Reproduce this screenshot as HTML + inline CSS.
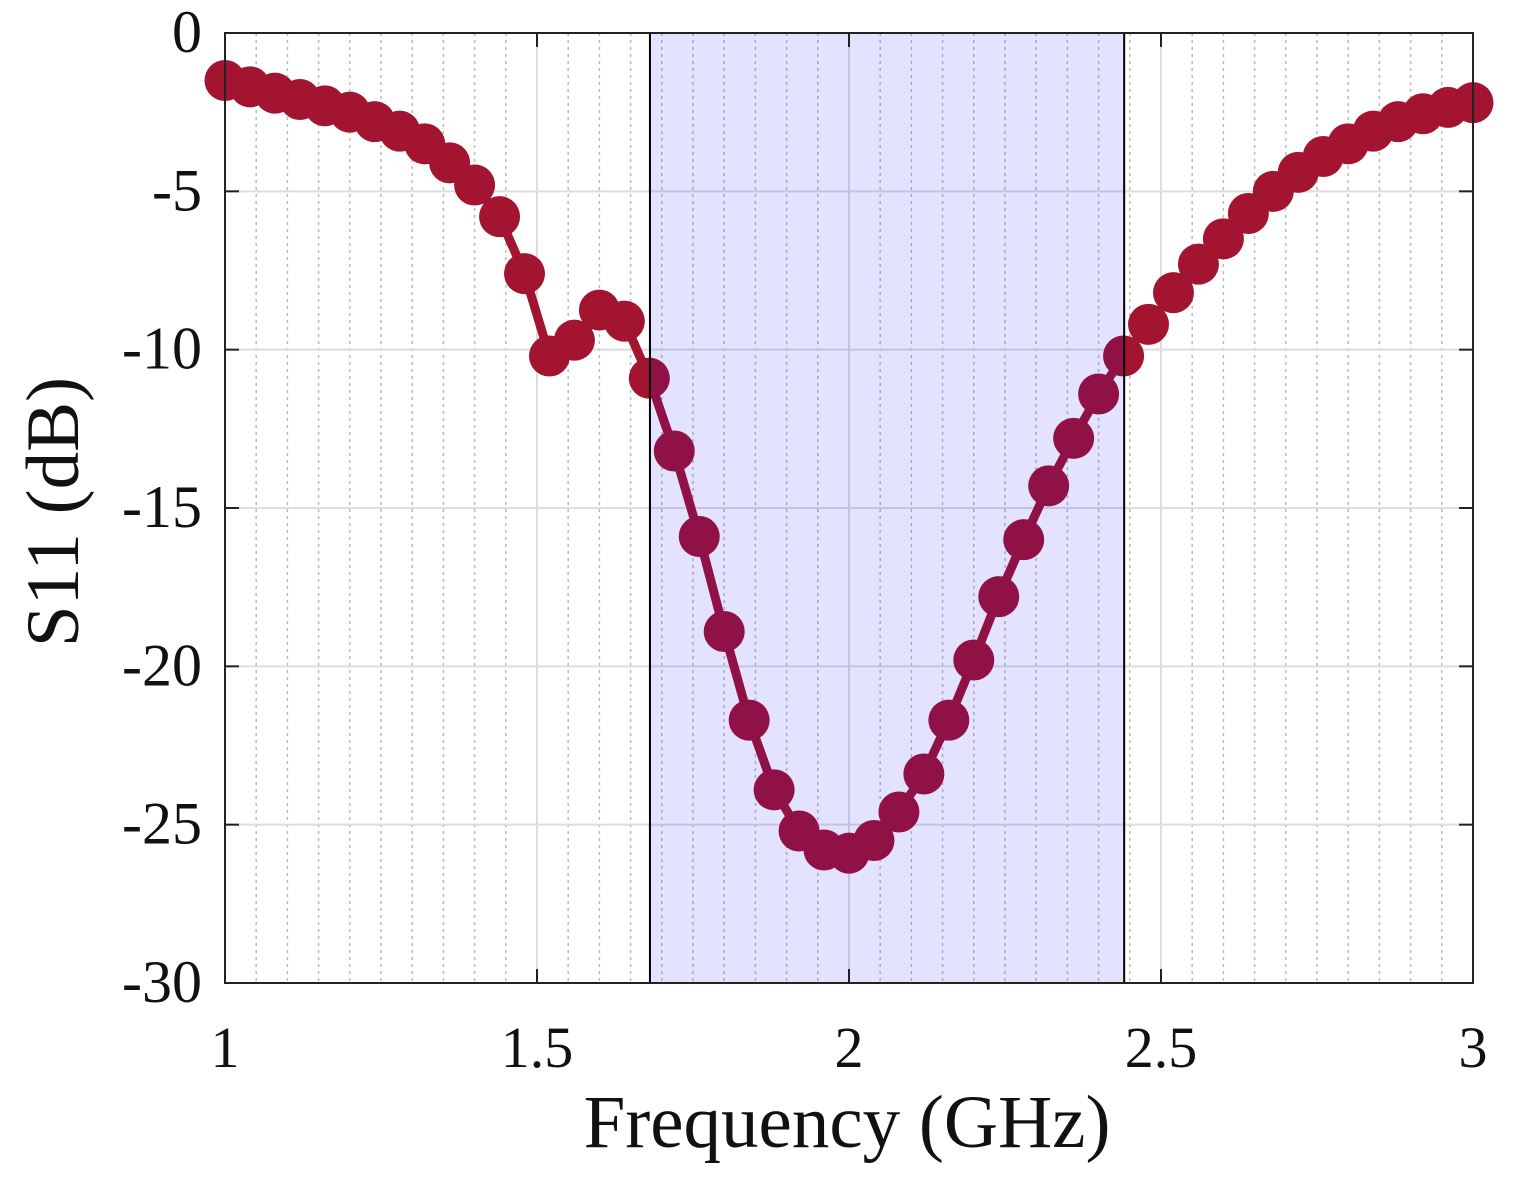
<!DOCTYPE html>
<html><head><meta charset="utf-8"><style>
html,body{margin:0;padding:0;background:#fff}
svg text{font-family:"Liberation Serif",serif;fill:#111}
</style></head><body>
<svg width="1515" height="1179" viewBox="0 0 1515 1179" xmlns="http://www.w3.org/2000/svg">
<g id="grid"></g>
<g id="series"></g>
<rect id="band" fill="rgb(0,0,255)" fill-opacity="0.11" stroke="#000" stroke-width="2"/>
<rect x="225" y="33" width="1248" height="950" fill="none" stroke="#222" stroke-width="2"/>
<g id="axes"></g>
<text x="847" y="1147" font-size="75" text-anchor="middle">Frequency (GHz)</text>
<text transform="translate(78,512) rotate(-90)" font-size="75" text-anchor="middle">S11 (dB)</text>
</svg>
<script>
const freqs=[1.00,1.04,1.08,1.12,1.16,1.20,1.24,1.28,1.32,1.36,1.40,1.44,1.48,1.52,1.56,1.60,1.64,1.68,1.72,1.76,1.80,1.84,1.88,1.92,1.96,2.00,2.04,2.08,2.12,2.16,2.20,2.24,2.28,2.32,2.36,2.40,2.44,2.48,2.52,2.56,2.60,2.64,2.68,2.72,2.76,2.80,2.84,2.88,2.92,2.96,3.00];
const s11=[-1.5,-1.7,-1.9,-2.1,-2.3,-2.5,-2.8,-3.1,-3.5,-4.1,-4.8,-5.8,-7.6,-10.2,-9.7,-8.75,-9.1,-10.9,-13.2,-15.9,-18.9,-21.7,-23.9,-25.2,-25.8,-25.9,-25.5,-24.6,-23.4,-21.7,-19.8,-17.8,-16.0,-14.3,-12.8,-11.4,-10.2,-9.2,-8.2,-7.3,-6.5,-5.7,-5.0,-4.4,-3.9,-3.5,-3.1,-2.8,-2.55,-2.35,-2.2];
const xTicks=[1,1.5,2,2.5,3];
const xTickLabels=["1","1.5","2","2.5","3"];
const yTicks=[0,-5,-10,-15,-20,-25,-30];
const yTickLabels=["0","-5","-10","-15","-20","-25","-30"];
const band=[1.681,2.441];
const X0=225,X1=1473,Y0=33,Y1=983;
const xs=v=>X0+(v-1)/2*(X1-X0);
const ys=v=>Y0+(0-v)/30*(Y1-Y0);
const NS="http://www.w3.org/2000/svg";
function mk(t,a,p){const e=document.createElementNS(NS,t);for(const k in a)e.setAttribute(k,a[k]);p.appendChild(e);return e;}
const grid=document.getElementById('grid'),axes=document.getElementById('axes'),ser=document.getElementById('series');
for(let i=1;i<40;i++){const v=1+i*0.05;if(i%10===0)continue;
 const l=mk('line',{x1:xs(v),x2:xs(v),y1:Y0,y2:Y1,stroke:'#bbb','stroke-width':1.5,'stroke-dasharray':'3,4'},grid);
 }
xTicks.forEach((v,i)=>{const l=mk('line',{x1:xs(v),x2:xs(v),y1:Y0,y2:Y1,stroke:'#ddd','stroke-width':2},grid);
 
 mk('line',{x1:xs(v),x2:xs(v),y1:Y1,y2:Y1-14,stroke:'#222','stroke-width':2},axes);
 mk('line',{x1:xs(v),x2:xs(v),y1:Y0,y2:Y0+14,stroke:'#222','stroke-width':2},axes);
 const t=mk('text',{x:xs(v),y:1067,'font-size':58,'text-anchor':'middle'},axes);t.textContent=xTickLabels[i];
 });
yTicks.forEach((v,i)=>{const l=mk('line',{x1:X0,x2:X1,y1:ys(v),y2:ys(v),stroke:'#ddd','stroke-width':2},grid);
 
 mk('line',{x1:X0,x2:X0+14,y1:ys(v),y2:ys(v),stroke:'#222','stroke-width':2},axes);
 mk('line',{x1:X1,x2:X1-14,y1:ys(v),y2:ys(v),stroke:'#222','stroke-width':2},axes);
 const t=mk('text',{x:202,y:ys(v)+19,'font-size':60,'text-anchor':'end'},axes);t.textContent=yTickLabels[i];
 });
const pts=freqs.map((f,i)=>xs(f)+','+ys(s11[i])).join(' ');
const pl=mk('polyline',{points:pts,fill:'none',stroke:'#a2142f','stroke-width':9,'stroke-linejoin':'round'},ser);

freqs.forEach((f,i)=>{const c=mk('circle',{cx:xs(f),cy:ys(s11[i]),r:20.5,fill:'#a2142f'},ser);
 });
const b=document.getElementById('band');
b.setAttribute('x',xs(band[0]));b.setAttribute('width',xs(band[1])-xs(band[0]));b.setAttribute('y',Y0);b.setAttribute('height',Y1-Y0);
</script>
</body></html>
